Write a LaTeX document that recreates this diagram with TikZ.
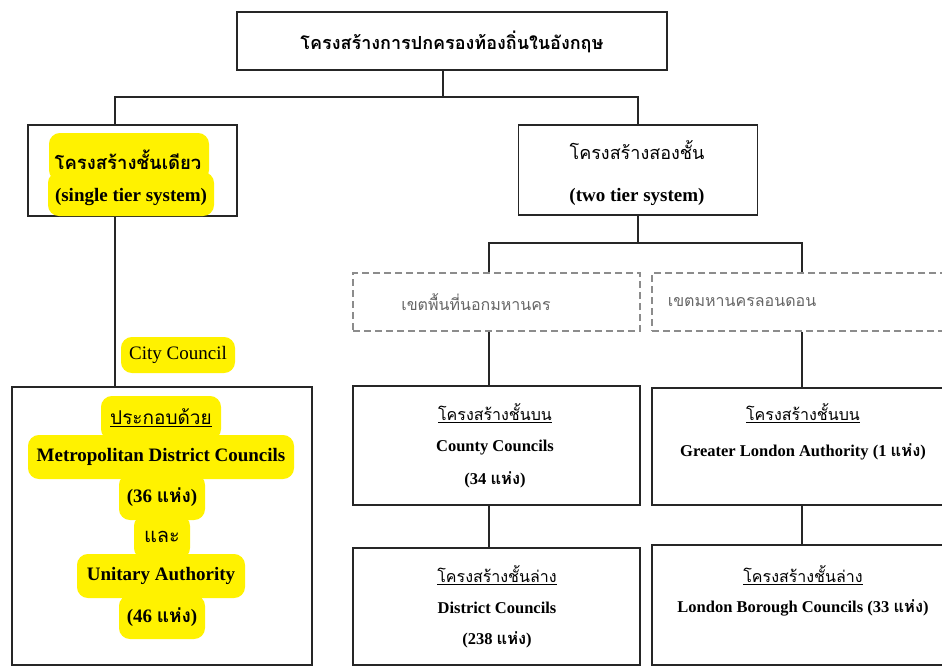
\documentclass[tikz,border=0pt]{standalone}
\usepackage{fontspec}
\setmainfont{Liberation Serif}
\newfontfamily\thai[Script=Thai]{Loma}
\newcommand\thx[1]{{\thai #1}}
\tikzset{
  box/.style={draw=black!85, line width=1.6pt, rectangle, inner sep=0pt},
  dbox/.style={draw=black!45, line width=1.1pt, dash pattern=on 7pt off 4pt, rectangle, inner sep=0pt},
  link/.style={draw=black!85, line width=1.4pt},
  hl/.style={fill=yellow, draw=yellow, line width=2pt, rounded corners=10pt, inner sep=0pt},
  big/.style={font=\fontsize{19}{22}\selectfont\bfseries},
  small/.style={font=\fontsize{16.5}{19}\selectfont\bfseries},
  thhead/.style={font=\fontsize{16}{18}\selectfont},
  txt/.style={inner sep=0pt, anchor=center}
}
\begin{document}
\begin{tikzpicture}[x=1pt,y=-1pt]
\clip (0,0) rectangle (942,667);
\fill[white] (0,0) rectangle (942,667);

% boxes
\node[box, minimum width=430pt, minimum height=58pt] (top) at (452,41) {};
\node[box, minimum width=209pt, minimum height=91pt] (single) at (132.5,170.5) {};
\node[box, minimum width=239pt, minimum height=90pt] (two) at (638,170) {};
\node[dbox, minimum width=287pt, minimum height=58pt] (dashL) at (496.5,302) {};
\node[dbox, minimum width=300pt, minimum height=58pt] (dashR) at (802,302) {};
\node[box, minimum width=287pt, minimum height=119pt] (county) at (496.5,445.5) {};
\node[box, minimum width=300pt, minimum height=117pt] (gla) at (802,446.5) {};
\node[box, minimum width=287pt, minimum height=117pt] (district) at (496.5,606.5) {};
\node[box, minimum width=300pt, minimum height=120pt] (lbc) at (802,605) {};
\node[box, minimum width=300pt, minimum height=278pt] (bigbox) at (162,526) {};

% connector columns and junctions
\coordinate (sx) at (115,0);
\coordinate (lx) at (489,0);
\coordinate (rx) at (802,0);
\coordinate (bus1) at (443,97);
\coordinate (bus2) at (638,243);

\draw[link] (bus1 |- top.south) -- (bus1);
\draw[link] (sx |- single.north) |- (two.north |- bus1) -- (two.north);
\draw[link] (two.south) -- (bus2);
\draw[link] (lx |- dashL.north) |- (rx |- bus2) -- (rx |- dashR.north);
\draw[link] (lx |- dashL.south) -- (lx |- county.north);
\draw[link] (lx |- county.south) -- (lx |- district.north);
\draw[link] (rx |- dashR.south) -- (rx |- gla.north);
\draw[link] (rx |- gla.south) -- (rx |- lbc.north);
\draw[link] (sx |- single.south) -- (sx |- bigbox.north);

% title
\node[txt, font=\fontsize{18}{21}\selectfont\bfseries] (ttitle) at (452,42) {\thx{โครงสร้างการปกครองท้องถิ่นในอังกฤษ}};

% single tier
\node[hl, minimum width=158pt, minimum height=46pt] (hs1) at (129,157) {};
\node[hl, minimum width=164pt, minimum height=42pt] (hs2) at (131,194) {};
\node[txt, font=\fontsize{18.5}{21}\selectfont\bfseries] (s1) at (128,160) {\thx{โครงสร้างชั้นเดียว}};
\node[txt, big] (s2) at (131,197) {(single tier system)};

% two tier
\node[txt, font=\fontsize{18}{21}\selectfont] (t1) at (637,150) {\thx{โครงสร้างสองชั้น}};
\node[txt, big] (t2) at (637,197) {(two tier system)};

% dashed areas
\node[txt, thhead, text=black!60] (d1) at (476,302) {\thx{เขตพื้นที่นอกมหานคร}};
\node[txt, thhead, text=black!60] (d2) at (742,302) {\thx{เขตมหานครลอนดอน}};

% city council label
\node[hl, font=\fontsize{19}{22}\selectfont, minimum width=112pt, minimum height=34pt] (city) at (178,355) {City Council};

% single tier contents
\node[hl, minimum width=118pt, minimum height=42pt] at (161,418) {};
\node[hl, minimum width=264pt, minimum height=42pt] at (161,457) {};
\node[hl, minimum width=84pt, minimum height=44pt] at (162,497) {};
\node[hl, minimum width=54pt, minimum height=42pt] at (162,537) {};
\node[hl, minimum width=166pt, minimum height=42pt] at (161,576) {};
\node[hl, minimum width=84pt, minimum height=42pt] at (162,617) {};
\node[txt, font=\fontsize{19}{21}\selectfont] (b1) at (161,418) {\underline{\thx{ประกอบด้วย}}};
\node[txt, big] (b2) at (161,457) {Metropolitan District Councils};
\node[txt, big] (b3) at (162,497) {(36 \thx{แห่ง})};
\node[txt, font=\fontsize{20}{22}\selectfont] (b4) at (162,537) {\thx{และ}};
\node[txt, big] (b5) at (161,576) {Unitary Authority};
\node[txt, big] (b6) at (162,617) {(46 \thx{แห่ง})};

% county councils
\node[txt, thhead] (c1) at (495,413) {\underline{\thx{โครงสร้างชั้นบน}}};
\node[txt, small] (c2) at (495,448) {County Councils};
\node[txt, small] (c3) at (495,480) {(34 \thx{แห่ง})};

% greater london authority
\node[txt, thhead] (g1) at (803,413) {\underline{\thx{โครงสร้างชั้นบน}}};
\node[txt, small] (g2) at (803,452) {Greater London Authority (1 \thx{แห่ง})};

% district councils
\node[txt, thhead] (e1) at (497,575) {\underline{\thx{โครงสร้างชั้นล่าง}}};
\node[txt, small] (e2) at (497,608) {District Councils};
\node[txt, small] (e3) at (497,640) {(238 \thx{แห่ง})};

% london borough councils
\node[txt, thhead] (l1) at (803,575) {\underline{\thx{โครงสร้างชั้นล่าง}}};
\node[txt, small] (l2) at (803,608) {London Borough Councils (33 \thx{แห่ง})};
\end{tikzpicture}
\end{document}
